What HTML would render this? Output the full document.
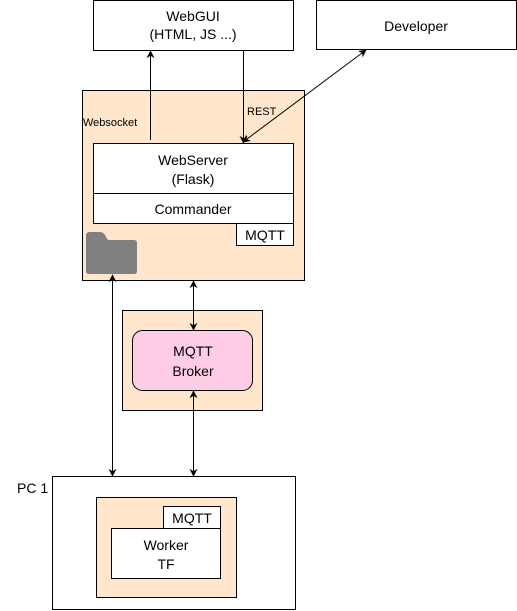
<!DOCTYPE html>
<html><head><meta charset="utf-8"><style>
html,body{margin:0;padding:0;background:#fff;}
svg{display:block;font-family:"Liberation Sans",Arial,sans-serif;}
</style></head><body>
<svg width="517" height="611" viewBox="0 0 517 611" xmlns="http://www.w3.org/2000/svg">
<defs>
<marker id="a" viewBox="0 0 10 10" refX="9" refY="5" markerWidth="8" markerHeight="8" orient="auto-start-reverse" markerUnits="userSpaceOnUse"><path d="M0,0 L10,5 L0,10 L3,5 Z" fill="#000"/></marker>
</defs>
<!-- top boxes -->
<rect x="93.5" y="0.5" width="200" height="50" fill="#fff" stroke="#000"/>
<text x="193" y="21" font-size="14" text-anchor="middle">WebGUI</text>
<text x="193" y="39" font-size="14" text-anchor="middle">(HTML, JS ...)</text>
<rect x="316.5" y="0.5" width="200" height="49" fill="#fff" stroke="#000"/>
<text x="416" y="31" font-size="14" text-anchor="middle">Developer</text>
<!-- main container -->
<rect x="82.5" y="90.5" width="222" height="190" fill="#FFE6CC" stroke="#000"/>
<text x="83" y="126" font-size="11">Websocket</text>
<text x="247" y="115" font-size="11">REST</text>
<rect x="93.5" y="143.5" width="200" height="50" fill="#fff" stroke="#000"/>
<text x="193" y="165" font-size="14" text-anchor="middle">WebServer</text>
<text x="193" y="184" font-size="14" text-anchor="middle">(Flask)</text>
<rect x="93.5" y="193.5" width="200" height="30" fill="#fff" stroke="#000"/>
<text x="193" y="214" font-size="14" text-anchor="middle">Commander</text>
<rect x="236.5" y="223.5" width="57" height="22" fill="#fff" stroke="#000"/>
<text x="265" y="240" font-size="14" text-anchor="middle">MQTT</text>
<!-- folder -->
<path d="M86,236 Q86,232 90,232 L100,232 Q104,232 106,237 L108,240 L134,240 Q137,240 137,243 L137,271 Q137,274 134,274 L89,274 Q86,274 86,271 Z" fill="#808080"/>
<!-- broker -->
<rect x="122.5" y="310.5" width="140" height="100" fill="#FFE6CC" stroke="#000"/>
<rect x="132.5" y="330.5" width="120" height="60" rx="10" fill="#FFCCE6" stroke="#000"/>
<text x="193" y="356" font-size="14" text-anchor="middle">MQTT</text>
<text x="193" y="376" font-size="14" text-anchor="middle">Broker</text>
<!-- PC 1 -->
<text x="17" y="493" font-size="14">PC 1</text>
<rect x="52.5" y="476.5" width="243" height="133" fill="#fff" stroke="#000"/>
<rect x="96.5" y="497.5" width="140" height="100" fill="#FFE6CC" stroke="#000"/>
<rect x="163.5" y="506.5" width="57" height="22" fill="#fff" stroke="#000"/>
<text x="192" y="523" font-size="14" text-anchor="middle">MQTT</text>
<rect x="111.5" y="528.5" width="109" height="50" fill="#fff" stroke="#000"/>
<text x="166" y="550" font-size="14" text-anchor="middle">Worker</text>
<text x="166" y="569" font-size="14" text-anchor="middle">TF</text>
<!-- connectors -->
<line x1="150.5" y1="140" x2="150.5" y2="51" stroke="#000" marker-end="url(#a)"/>
<line x1="243.5" y1="50" x2="243.5" y2="143" stroke="#000" marker-end="url(#a)"/>
<line x1="243" y1="142" x2="366" y2="50" stroke="#000" marker-start="url(#a)" marker-end="url(#a)"/>
<line x1="112.5" y1="275" x2="112.5" y2="476" stroke="#000" marker-start="url(#a)" marker-end="url(#a)"/>
<line x1="193.5" y1="281" x2="193.5" y2="330" stroke="#000" marker-start="url(#a)" marker-end="url(#a)"/>
<line x1="193.5" y1="391" x2="193.5" y2="476" stroke="#000" marker-start="url(#a)" marker-end="url(#a)"/>
</svg>
</body></html>
